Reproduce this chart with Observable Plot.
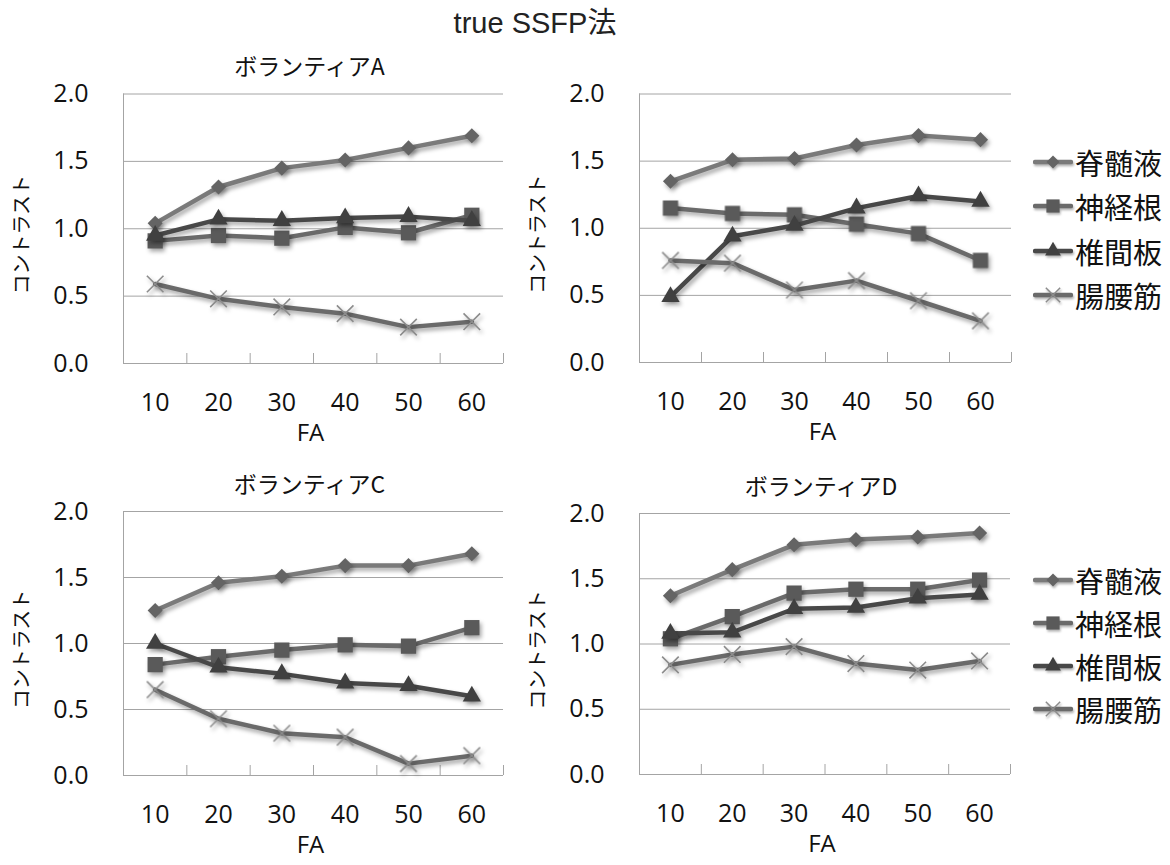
<!DOCTYPE html>
<html><head><meta charset="utf-8">
<script src="https://cdn.jsdelivr.net/npm/d3@7"></script>
<script src="https://cdn.jsdelivr.net/npm/@observablehq/plot@0.6"></script>
<style>
body{margin:0;background:#fff;}
#root{position:relative;width:1170px;height:865px;overflow:hidden;background:#fff;font-family:'Open Sans','Noto Sans CJK JP',sans-serif;color:#111;}
.abs{position:absolute;}
#title{left:385px;width:300px;top:8px;text-align:center;font-size:29px;line-height:30px;font-family:'Liberation Sans','Noto Sans CJK JP',sans-serif;color:#222;}
.leg{position:absolute;left:1033px;height:30px;display:flex;align-items:center;font-family:'Noto Sans CJK JP',sans-serif;font-size:29px;color:#111;}
.leg svg{display:block;margin-right:2px;}
</style></head><body><div id="root"><div id="title" class="abs">true SSFP法</div></div>
<script>
// ---- data ----
const fa = [10, 20, 30, 40, 50, 60];
const seriesNames = ["脊髄液", "神経根", "椎間板", "腸腰筋"];
const panelTitles = ["ボランティアA", "", "ボランティアC", "ボランティアD"];
const yTicks = [0, 0.5, 1.0, 1.5, 2.0];
const yLabel = "コントラスト";
const xLabel = "FA";

// ボランティアA
const csfA   = [1.04, 1.31, 1.45, 1.51, 1.60, 1.69];
const rootA  = [0.91, 0.95, 0.93, 1.01, 0.97, 1.10];
const discA  = [0.95, 1.07, 1.06, 1.08, 1.09, 1.06];
const psoasA = [0.59, 0.48, 0.42, 0.37, 0.27, 0.31];
// (untitled, B)
const csfB   = [1.35, 1.51, 1.52, 1.62, 1.69, 1.66];
const rootB  = [1.15, 1.11, 1.10, 1.03, 0.96, 0.76];
const discB  = [0.49, 0.94, 1.02, 1.15, 1.24, 1.20];
const psoasB = [0.76, 0.74, 0.54, 0.61, 0.46, 0.31];
// ボランティアC
const csfC   = [1.25, 1.46, 1.51, 1.59, 1.59, 1.68];
const rootC  = [0.84, 0.90, 0.95, 0.99, 0.98, 1.12];
const discC  = [1.00, 0.82, 0.77, 0.70, 0.68, 0.60];
const psoasC = [0.65, 0.43, 0.32, 0.29, 0.09, 0.15];
// ボランティアD
const csfD   = [1.37, 1.57, 1.76, 1.80, 1.82, 1.85];
const rootD  = [1.04, 1.21, 1.39, 1.42, 1.42, 1.49];
const discD  = [1.08, 1.09, 1.27, 1.28, 1.35, 1.38];
const psoasD = [0.84, 0.92, 0.98, 0.85, 0.80, 0.87];

// ---- styles ----
const lineColors = ["#7a7a7a", "#6a6a6a", "#484848", "#6a6a6a"];
const markColors = ["#646464", "#5a5a5a", "#404040", "#8c8c8c"];
const symbols = ["diamond2", "square", "triangle", "times"];
const markR = [6.8, 8.6, 6.8, 7.6];
const gridColor = "#a4a4a4";

const root = document.getElementById("root");

function panel(values, title, box) {
  const rows = [];
  seriesNames.forEach((s, k) => fa.forEach((f, i) => rows.push({series: s, fa: f, v: values[k][i]})));
  const step = fa[1] - fa[0];
  const bounds = fa.map(f => f + step / 2);
  const marks = [
    Plot.gridY(yTicks.slice(1), {stroke: gridColor, strokeOpacity: 1}),
    Plot.ruleY([yTicks[0]], {stroke: gridColor}),
    Plot.ruleX([fa[0] - step / 2], {stroke: gridColor}),
    Plot.ruleX(bounds, {y1: yTicks[0], y2: yTicks[0], insetBottom: 10, stroke: gridColor}),
    Plot.axisY({ticks: yTicks, tickSize: 0, tickPadding: 35, tickFormat: d3.format(".1f"), fontSize: 25, label: null}),
    Plot.axisX({ticks: fa, tickSize: 0, tickPadding: 30, tickFormat: d => String(d), fontSize: 25, label: null})
  ];
  seriesNames.forEach((s, k) => {
    const d = rows.filter(r => r.series === s);
    marks.push(Plot.line(d, {x: "fa", y: "v", stroke: lineColors[k], strokeWidth: 4.5, strokeLinejoin: "round", strokeLinecap: "round"}));
    if (symbols[k] === "times")
      marks.push(Plot.dot(d, {x: "fa", y: "v", symbol: "times", r: markR[k], stroke: markColors[k], strokeWidth: 1.6, fill: "none"}));
    else
      marks.push(Plot.dot(d, {x: "fa", y: "v", symbol: symbols[k], r: markR[k], fill: markColors[k], stroke: "none"}));
  });
  marks.push(Plot.text([xLabel], {text: d => d, frameAnchor: "bottom", lineAnchor: "middle", textAnchor: "middle", dy: 70, dx: -3, fontSize: 24, fill: "#111"}));
  marks.push(Plot.text([yLabel], {text: d => d, frameAnchor: "left", textAnchor: "middle", lineAnchor: "middle", dx: -101, dy: 6, rotate: -90, fontSize: 20, fill: "#111", fontFamily: "'Noto Sans CJK JP',sans-serif"}));
  if (title) marks.push(Plot.text([title], {text: d => d, frameAnchor: "top", lineAnchor: "middle", textAnchor: "middle", dy: -26, dx: -4, fontSize: 23, fill: "#111", fontFamily: "'Noto Sans CJK JP',sans-serif"}));

  const svg = Plot.plot({
    width: box.w, height: box.h,
    marginLeft: box.ml, marginRight: box.mr, marginTop: box.mt, marginBottom: box.mb,
    x: {type: "linear", domain: [fa[0] - step / 2, fa[fa.length - 1] + step / 2], label: null},
    y: {domain: [yTicks[0], yTicks[yTicks.length - 1]], label: null},
    style: {fontFamily: "'Open Sans','Noto Sans CJK JP',sans-serif", fontSize: "25px", color: "#111", background: "transparent", overflow: "visible"},
    marks
  });
  svg.style.position = "absolute";
  svg.style.left = box.x + "px";
  svg.style.top = box.y + "px";
  svg.querySelectorAll('g[aria-label="line"], g[aria-label="dot"]').forEach(g => {
    g.style.filter = "drop-shadow(2px 3px 2px rgba(0,0,0,0.35))";
  });
  root.appendChild(svg);
}

panel([csfA, rootA, discA, psoasA], panelTitles[0], {x: 0,   y: 80,  w: 515, h: 380, ml: 123, mr: 12, mt: 13.5, mb: 97});
panel([csfB, rootB, discB, psoasB], panelTitles[1], {x: 515, y: 80,  w: 515, h: 380, ml: 124, mr: 19, mt: 13.5, mb: 98});
panel([csfC, rootC, discC, psoasC], panelTitles[2], {x: 0,   y: 500, w: 515, h: 365, ml: 123, mr: 12, mt: 11,   mb: 90});
panel([csfD, rootD, discD, psoasD], panelTitles[3], {x: 515, y: 500, w: 515, h: 365, ml: 124, mr: 20, mt: 13,   mb: 91});

// ---- legends ----
function legend(centers) {
  seriesNames.forEach((s, k) => {
    const div = document.createElement("div");
    div.className = "leg";
    div.style.top = (centers[k] - 15) + "px";
    const W = 40, H = 24;
    const svg = d3.create("svg").attr("width", W).attr("height", H)
      .style("filter", "drop-shadow(1px 2px 1px rgba(0,0,0,0.3))");
    svg.append("line").attr("x1", 2).attr("x2", W - 2).attr("y1", H / 2).attr("y2", H / 2)
      .attr("stroke", lineColors[k]).attr("stroke-width", 4.5).attr("stroke-linecap", "round");
    const symMap = {diamond2: d3.symbolDiamond2, square: d3.symbolSquare, triangle: d3.symbolTriangle, times: d3.symbolTimes};
    const size = Math.PI * markR[k] * markR[k] * 0.75;
    const p = svg.append("path").attr("transform", `translate(${W / 2},${H / 2})`)
      .attr("d", d3.symbol(symMap[symbols[k]], size)());
    if (symbols[k] === "times") p.attr("fill", "none").attr("stroke", markColors[k]).attr("stroke-width", 1.5);
    else p.attr("fill", markColors[k]);
    div.appendChild(svg.node());
    const span = document.createElement("span");
    span.textContent = s;
    div.appendChild(span);
    root.appendChild(div);
  });
}
legend([162, 206, 251, 295]);
legend([580, 623, 666, 709]);
</script></body></html>
